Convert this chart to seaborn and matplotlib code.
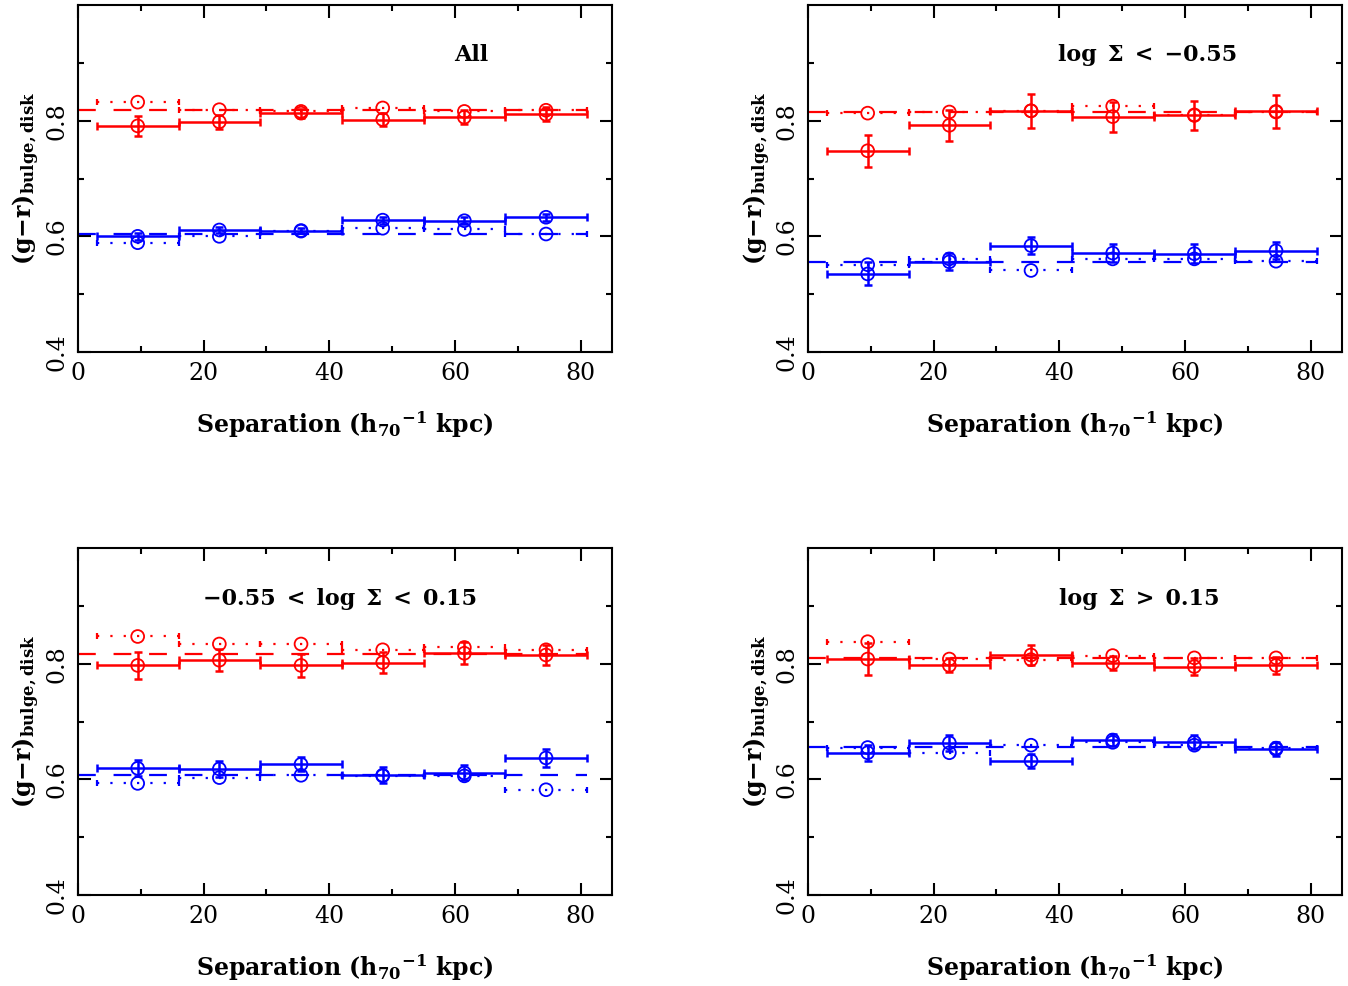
import numpy as np
import pandas as pd
import matplotlib
matplotlib.use("Agg")
import matplotlib.pyplot as plt
import seaborn as sns
from matplotlib.ticker import MultipleLocator, FixedLocator

# ---------------- data ----------------
bin_centers = [9.5, 22.5, 35.5, 48.5, 61.5, 74.5]
bin_half = 6.5
mean_range = [0, 81]

panel_titles = ["All", "log\u2002Σ\u2002<\u2002−0.55",
                "−0.55\u2002<\u2002log\u2002Σ\u2002<\u20020.15",
                "log\u2002Σ\u2002>\u20020.15"]

red_solid = [[0.791, 0.798, 0.813, 0.802, 0.806, 0.811],
             [0.748, 0.792, 0.817, 0.807, 0.809, 0.816],
             [0.797, 0.806, 0.797, 0.802, 0.818, 0.815],
             [0.808, 0.797, 0.815, 0.801, 0.795, 0.797]]
red_solid_err = [[0.017, 0.012, 0.008, 0.011, 0.012, 0.012],
                 [0.028, 0.027, 0.029, 0.026, 0.025, 0.029],
                 [0.024, 0.019, 0.020, 0.019, 0.019, 0.017],
                 [0.028, 0.012, 0.018, 0.012, 0.014, 0.015]]
red_dotted = [[0.832, 0.819, 0.816, 0.822, 0.816, 0.818],
              [0.813, 0.815, 0.817, 0.825, 0.810, 0.815],
              [0.847, 0.834, 0.834, 0.824, 0.828, 0.824],
              [0.838, 0.808, 0.807, 0.814, 0.810, 0.810]]
red_mean = [0.819, 0.815, 0.817, 0.810]

blue_solid = [[0.600, 0.611, 0.610, 0.628, 0.627, 0.633],
              [0.535, 0.556, 0.584, 0.571, 0.570, 0.575],
              [0.619, 0.618, 0.626, 0.607, 0.611, 0.637],
              [0.646, 0.663, 0.632, 0.668, 0.664, 0.652]]
blue_solid_err = [[0.006, 0.006, 0.005, 0.006, 0.006, 0.006],
                  [0.020, 0.015, 0.015, 0.016, 0.016, 0.015],
                  [0.014, 0.014, 0.012, 0.014, 0.013, 0.016],
                  [0.014, 0.014, 0.012, 0.011, 0.012, 0.012]]
blue_dotted = [[0.589, 0.600, 0.609, 0.614, 0.612, 0.604],
               [0.551, 0.561, 0.541, 0.561, 0.561, 0.557],
               [0.593, 0.603, 0.607, 0.606, 0.606, 0.582],
               [0.655, 0.646, 0.659, 0.664, 0.659, 0.654]]
blue_mean = [0.604, 0.555, 0.607, 0.656]

title_pos = [(62.6, 0.914), (54.0, 0.914), (41.7, 0.912), (52.8, 0.912)]

# ---------------- style ----------------
sns.set_theme(style="ticks")
plt.rcParams["font.family"] = ["DejaVu Serif"]
plt.rcParams["mathtext.fontset"] = "dejavuserif"
plt.rcParams["mathtext.default"] = "bf"
plt.rcParams["text.color"] = "black"
plt.rcParams["axes.labelcolor"] = "black"
plt.rcParams["xtick.color"] = "black"
plt.rcParams["ytick.color"] = "black"

RED = "#ff0000"
BLUE = "#0000ff"

fig = plt.figure(figsize=(13.48, 9.86), dpi=100)
W, H = 1348.0, 986.0
boxes = [(78, 5), (808, 5), (78, 548), (808, 548)]
aw, ah = 534, 347

for i, (lx, ty) in enumerate(boxes):
    ax = fig.add_axes([lx / W, 1 - (ty + ah) / H, aw / W, ah / H])
    for color, solid, serr, dotted, mean in [
        (RED, red_solid[i], red_solid_err[i], red_dotted[i], red_mean[i]),
        (BLUE, blue_solid[i], blue_solid_err[i], blue_dotted[i], blue_mean[i]),
    ]:
        # constant (mean) dashed line
        ax.plot(mean_range, [mean, mean], color=color, lw=1.6, dashes=(8, 8))
        # dotted binned values
        eb = ax.errorbar(bin_centers, dotted, xerr=bin_half, fmt="none",
                         ecolor=color, elinewidth=1.6, capsize=2.5, capthick=1.6)
        eb[2][0].set_linestyle((0, (1, 5)))
        # solid binned values with error bars
        ax.errorbar(bin_centers, solid, xerr=bin_half, yerr=serr, fmt="none",
                    ecolor=color, elinewidth=1.8, capsize=2.6, capthick=1.8)
        df = pd.DataFrame({"sep": bin_centers * 2,
                           "col": list(solid) + list(dotted)})
        sns.scatterplot(data=df, x="sep", y="col", marker="o", s=85,
                        facecolors="none", edgecolor=color, linewidth=1.3,
                        ax=ax, legend=False, zorder=5)

    ax.set_xlim(0, 85)
    ax.set_ylim(0.4, 1.0)
    ax.xaxis.set_major_locator(MultipleLocator(20))
    ax.xaxis.set_minor_locator(MultipleLocator(10))
    ax.yaxis.set_major_locator(FixedLocator([0.4, 0.6, 0.8]))
    ax.yaxis.set_minor_locator(FixedLocator([0.5, 0.7, 0.9]))
    ax.tick_params(which="both", direction="in", top=True, right=True,
                   width=1.5, colors="black", labelsize=17)
    ax.tick_params(which="major", length=9, pad=7)
    ax.tick_params(which="minor", length=4.5)
    ax.tick_params(axis="y", labelrotation=90)
    for lbl in ax.get_yticklabels():
        lbl.set_va("center")
    for sp in ax.spines.values():
        sp.set_linewidth(1.5)
        sp.set_color("black")

    ax.set_xlabel(r"Separation (h$_{70}$$^{-1}$ kpc)", fontsize=17,
                  fontweight="bold", labelpad=18, color="black")
    ax.set_ylabel(r"(g$-$r)$_{bulge,disk}$", fontsize=17, fontweight="bold",
                  labelpad=2, color="black")
    ax.text(title_pos[i][0], title_pos[i][1], panel_titles[i], fontsize=16,
            fontweight="bold", ha="center", va="center", color="black")

fig.savefig("out.png", dpi=100)
